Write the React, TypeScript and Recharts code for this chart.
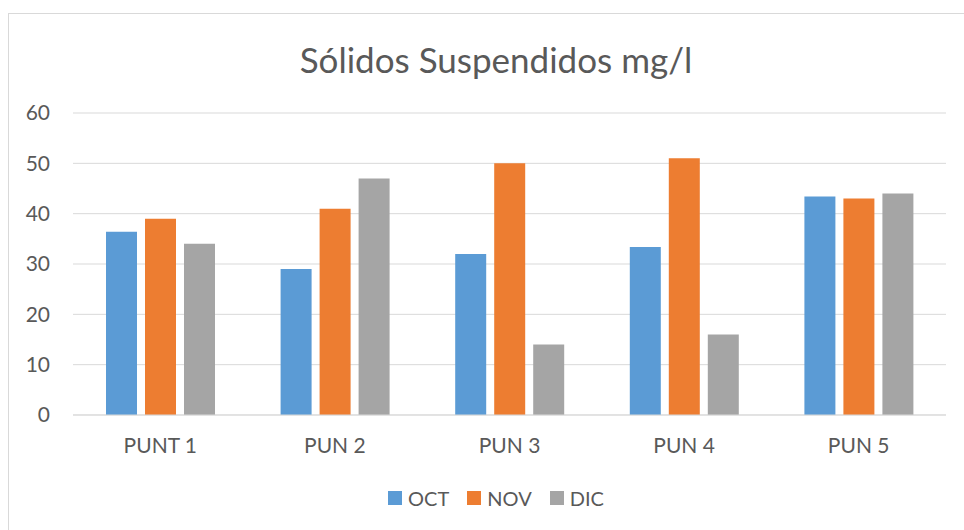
import { BarChart, Bar, XAxis, YAxis, CartesianGrid, Legend } from "recharts";

const puntos = ["PUNT 1", "PUN 2", "PUN 3", "PUN 4", "PUN 5"];
const oct = [36.4, 29, 32, 33.4, 43.4];
const nov = [39, 41, 50, 51, 43];
const dic = [34, 47, 14, 16, 44];
const yTicks = [0, 10, 20, 30, 40, 50, 60];

const series = [
  { key: "OCT", color: "#5B9BD5" },
  { key: "NOV", color: "#ED7D31" },
  { key: "DIC", color: "#A5A5A5" },
];

const data = puntos.map((name, i) => ({
  name,
  OCT: oct[i],
  NOV: nov[i],
  DIC: dic[i],
}));

const FONT = "Lato, 'Open Sans', sans-serif";
const TXT = "#595959";

// leyenda propia para controlar separaciones
const renderLegend = () => (
  <div
    style={{
      display: "flex",
      justifyContent: "center",
      fontFamily: FONT,
      fontSize: 20,
      color: TXT,
    }}
  >
    {series.map((s) => (
      <div
        key={s.key}
        style={{ display: "flex", alignItems: "center", margin: "0 9px" }}
      >
        <span
          style={{
            width: 14,
            height: 14,
            background: s.color,
            display: "inline-block",
            marginRight: 6,
          }}
        />
        <span>{s.key}</span>
      </div>
    ))}
  </div>
);

export default function App() {
  return (
    <div
      style={{
        position: "fixed",
        left: 0,
        top: 0,
        width: 964,
        height: 530,
        overflow: "hidden",
        background: "#fff",
      }}
    >
      <div
        style={{
          position: "absolute",
          left: 8,
          top: 13,
          width: 976,
          height: 540,
          border: "1px solid #d9d9d9",
          boxSizing: "border-box",
        }}
      />
      <div
        style={{
          position: "absolute",
          left: 8,
          top: 38,
          width: 976,
          textAlign: "center",
          fontFamily: FONT,
          fontSize: 35,
          color: TXT,
        }}
      >
        Sólidos Suspendidos mg/l
      </div>
      <div style={{ position: "absolute", left: 8, top: 0 }}>
        <BarChart
          width={976}
          height={530}
          data={data}
          margin={{ top: 113, right: 38, left: 0, bottom: 20 }}
          barSize={31}
          barGap={8}
        >
          <CartesianGrid vertical={false} stroke="#d9d9d9" />
          <XAxis
            dataKey="name"
            axisLine={{ stroke: "#d9d9d9" }}
            tickLine={false}
            tickSize={0}
            tickMargin={23}
            height={71}
            tick={{ fill: TXT, fontSize: 21, fontFamily: FONT }}
          />
          <YAxis
            width={65}
            domain={[0, 60]}
            ticks={yTicks}
            axisLine={false}
            tickLine={false}
            tickSize={0}
            tickMargin={23}
            tick={{ fill: TXT, fontSize: 21, fontFamily: FONT }}
          />
          <Legend
            verticalAlign="bottom"
            content={renderLegend}
            wrapperStyle={{ left: 0, width: 976 }}
          />
          {series.map((s) => (
            <Bar
              key={s.key}
              dataKey={s.key}
              fill={s.color}
              isAnimationActive={false}
            />
          ))}
        </BarChart>
      </div>
    </div>
  );
}
